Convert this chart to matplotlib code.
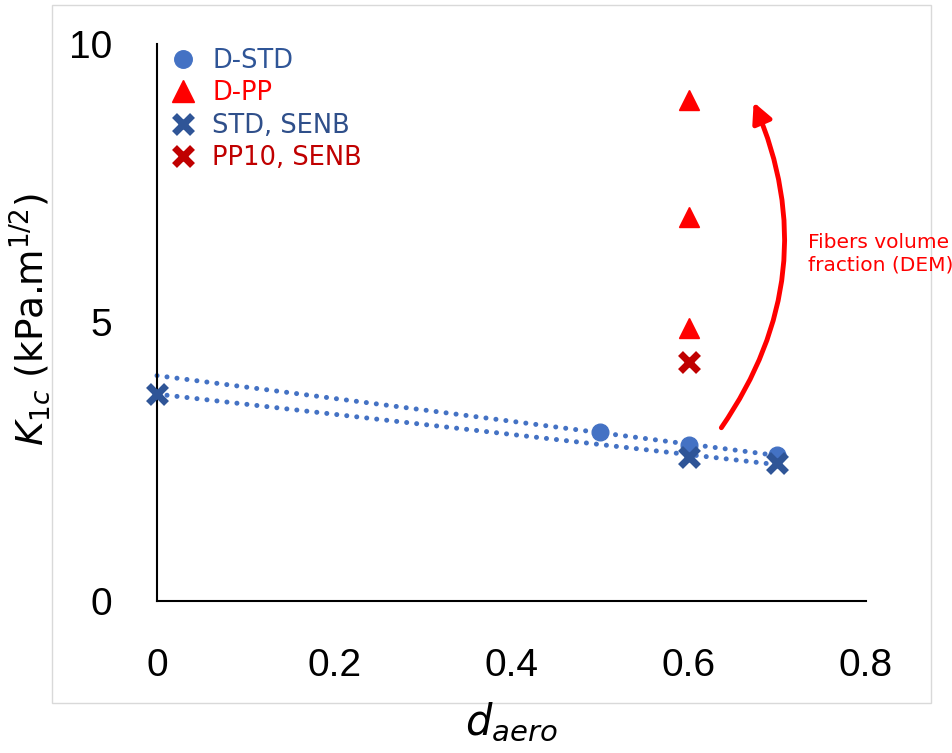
import numpy as np
import matplotlib
matplotlib.use("Agg")
import matplotlib.pyplot as plt
from matplotlib.patches import FancyArrowPatch, Rectangle

# ---- data ----
dstd_x = [0.5, 0.6, 0.7]
dstd_y = [3.03, 2.80, 2.62]
dpp_x = [0.6, 0.6, 0.6]
dpp_y = [9.0, 6.9, 4.9]
std_senb_x = [0.0, 0.6, 0.7]
std_senb_y = [3.72, 2.59, 2.48]
pp10_senb_x = [0.6]
pp10_senb_y = [4.29]
x_ticks = [0, 0.2, 0.4, 0.6, 0.8]
x_tick_labels = ["0", "0.2", "0.4", "0.6", "0.8"]
y_ticks = [0, 5, 10]
y_tick_labels = ["0", "5", "10"]

W, H = 952, 753
fig = plt.figure(figsize=(W / 100, H / 100), dpi=100)
plt.rcParams['font.family'] = ['DejaVu Sans']

# light gray chart frame
fig.patches.append(Rectangle((52 / W, 1 - 703 / H), (931 - 52) / W, (703 - 5) / H,
                             transform=fig.transFigure, fill=False,
                             edgecolor='#D9D9D9', lw=1))

ax = fig.add_axes([157 / W, 1 - 601 / H, (866 - 157) / W, (601 - 44) / H])
ax.set_xlim(0, 0.8)
ax.set_ylim(0, 10)
for s in ['top', 'right']:
    ax.spines[s].set_visible(False)
for s in ['left', 'bottom']:
    ax.spines[s].set_color('black')
    ax.spines[s].set_linewidth(1.5)
ax.set_xticks(x_ticks)
ax.set_xticklabels(x_tick_labels)
ax.set_yticks(y_ticks)
ax.set_yticklabels(y_tick_labels)
ax.tick_params(length=0, labelsize=28, pad=0)
for lab in ax.get_xticklabels() + ax.get_yticklabels():
    lab.set_fontfamily('Liberation Sans')
ax.tick_params(axis='x', pad=34)
ax.tick_params(axis='y', pad=32)

# trend lines
line_color = '#4472C4'
for xs, ys in [(dstd_x, dstd_y), (std_senb_x, std_senb_y)]:
    k, b = np.polyfit(xs, ys, 1)
    xx = np.array([0.0, 0.7])
    ax.plot(xx, k * xx + b, color=line_color, lw=3.6, dashes=(0.01, 2.0),
            dash_capstyle='round', zorder=2, clip_on=False)

ax.plot(dstd_x, dstd_y, 'o', color='#4472C4', ms=12, ls='none', label='D-STD',
        zorder=3, clip_on=False)
ax.plot(dpp_x, dpp_y, '^', color='#FF0000', ms=15, ls='none', label='D-PP',
        zorder=3, clip_on=False)
ax.plot(std_senb_x, std_senb_y, 'x', color='#2F5597', ms=13, mew=5, ls='none',
        label='STD, SENB', zorder=4, clip_on=False)
ax.plot(pp10_senb_x, pp10_senb_y, 'x', color='#C00000', ms=13, mew=5, ls='none',
        label='PP10, SENB', zorder=4, clip_on=False)

leg = ax.legend(loc='upper left', bbox_to_anchor=(0.0, 1.025), frameon=False,
                fontsize=18.5, handletextpad=0.85, labelspacing=0.25,
                handlelength=0.6, borderaxespad=0.3, markerscale=1.05)
for t, c in zip(leg.get_texts(), ['#2F5597', '#FF0000', '#2F4F8A', '#C00000']):
    t.set_color(c)

# curved arrow
arr = FancyArrowPatch((0.635, 3.07), (0.672, 9.0), connectionstyle='arc3,rad=0.28',
                      arrowstyle='-|>', mutation_scale=30, color='#FF0000', lw=3.5,
                      zorder=5)
ax.add_patch(arr)
fig.text(808 / W, 1 - 254 / H, 'Fibers volume\nfraction (DEM)', color='#FF0000',
         fontsize=14.5, ha='left', va='center', linespacing=1.2)

# axis labels
fig.text(511 / W, 1 - 722 / H, r'$d_{aero}$', fontsize=30, ha='center', va='center')
fig.text(30 / W, 1 - 320 / H, r'$K_{1c}$ (kPa.m$^{1/2}$)', fontsize=27, rotation=90,
         ha='center', va='center')

fig.savefig('out.png', dpi=100)
